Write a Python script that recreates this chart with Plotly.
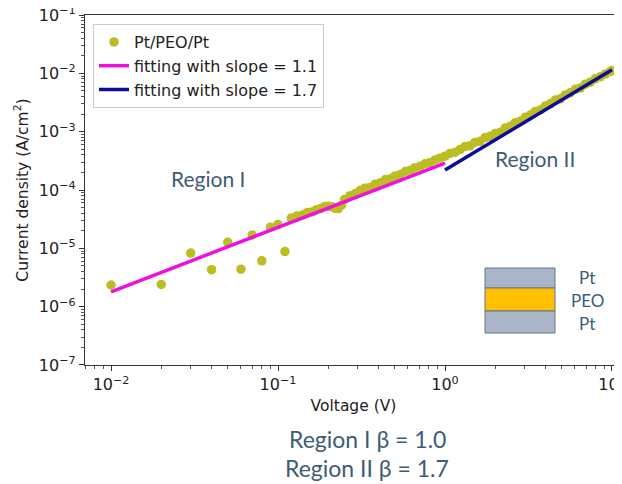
import plotly.graph_objects as go

# ---- data ----
voltage = [0.01, 0.02, 0.03, 0.04, 0.05, 0.06, 0.07, 0.08, 0.09, 0.10, 0.11, 0.12,
           0.13, 0.14, 0.15, 0.16, 0.17, 0.18, 0.19, 0.20, 0.21, 0.22, 0.23, 0.24, 0.25,
           0.27, 0.29, 0.31, 0.33, 0.35, 0.38, 0.41, 0.44, 0.47, 0.50, 0.54, 0.58, 0.62,
           0.66, 0.71, 0.76, 0.81, 0.87, 0.93, 1.0, 1.07, 1.15, 1.23, 1.32, 1.41, 1.51,
           1.62, 1.74, 1.86, 2.0, 2.14, 2.29, 2.45, 2.63, 2.82, 3.02, 3.24, 3.47, 3.72,
           3.98, 4.27, 4.57, 4.90, 5.25, 5.62, 6.03, 6.46, 6.92, 7.41, 7.94, 8.51, 9.12,
           9.77, 10.0]
current = [2.35e-6, 2.4e-6, 8.3e-6, 4.3e-6, 1.27e-5, 4.4e-6, 1.7e-5, 6.1e-6, 2.3e-5, 2.57e-5, 8.8e-6, 3.3e-5,
           3.59e-5, 3.72e-5, 4.11e-5, 4.21e-5, 4.60e-5, 4.80e-5, 5.21e-5, 5.26e-5, 5.18e-5, 4.85e-5, 4.8e-5, 5.5e-5, 6.9e-5,
           8.0e-5, 8.7e-5, 9.8e-5, 1.07e-4, 1.09e-4, 1.25e-4, 1.33e-4, 1.51e-4, 1.55e-4, 1.73e-4, 1.84e-4, 2.08e-4, 2.19e-4,
           2.41e-4, 2.55e-4, 2.81e-4, 2.94e-4, 3.27e-4, 3.51e-4, 3.8e-4, 4.24e-4, 4.44e-4, 4.93e-4, 5.58e-4, 5.73e-4, 6.55e-4,
           6.84e-4, 7.91e-4, 8.32e-4, 9.31e-4, 9.77e-4, 1.153e-3, 1.239e-3, 1.419e-3, 1.51e-3, 1.76e-3, 1.93e-3, 2.22e-3, 2.36e-3,
           2.75e-3, 3.0e-3, 3.48e-3, 3.66e-3, 4.27e-3, 4.63e-3, 5.33e-3, 5.6e-3, 6.52e-3, 7.06e-3, 8.04e-3, 8.73e-3, 9.7e-3,
           1.079e-2, 1.12e-2]

fit1_v = [0.01, 1.0]
fit1_j = [1.8e-6, 2.9e-4]
fit2_v = [1.0, 10.0]
fit2_j = [2.2e-4, 1.15e-2]

x_ticks = [0.01, 0.1, 1, 10]
x_ticktext = ["10<sup>−2</sup>", "10<sup>−1</sup>", "10<sup>0</sup>", "10<sup>1</sup>"]
y_ticks = [1e-7, 1e-6, 1e-5, 1e-4, 1e-3, 1e-2, 1e-1]
y_ticktext = ["10<sup>−7</sup>", "10<sup>−6</sup>", "10<sup>−5</sup>", "10<sup>−4</sup>",
              "10<sup>−3</sup>", "10<sup>−2</sup>", "10<sup>−1</sup>"]

legend_names = ["Pt/PEO/Pt", "fitting with slope = 1.1", "fitting with slope = 1.7"]
stack_labels = ["Pt", "PEO", "Pt"]
region_labels = ["Region I", "Region II"]
beta_lines = ["Region I β = 1.0", "Region II β = 1.7"]

TXT = "#3e5c76"
FONT = "DejaVu Sans"
FONT2 = "Lato"

# the page body has an 8px default margin; lay the figure out in page pixels
OFF = 8
PAGE_W, PAGE_H = 622, 484
PL, PT, PR_, PB = 85, 15, 622, 365   # plot area in page pixels

fig = go.Figure()
fig.add_trace(go.Scatter(x=voltage, y=current, mode="markers", name=legend_names[0],
                         marker=dict(color="#bcbd22", size=9.5, line=dict(width=0))))
fig.add_trace(go.Scatter(x=fit1_v, y=fit1_j, mode="lines", name=legend_names[1],
                         line=dict(color="#ee10dd", width=3.5)))
fig.add_trace(go.Scatter(x=fit2_v, y=fit2_j, mode="lines", name=legend_names[2],
                         line=dict(color="#0c0c9c", width=3.5)))

axis_common = dict(type="log", showgrid=False, zeroline=False, showline=True, automargin=False,
                   linecolor="#333333", linewidth=1.3, ticks="outside", ticklen=5,
                   tickwidth=1.1, tickcolor="#333333", ticklabeloverflow="allow",
                   tickfont=dict(family=FONT, size=16, color="#222222"),
                   minor=dict(ticks="outside", ticklen=2.5, tickcolor="#555555", showgrid=False, dtick="D1"))

fig.update_xaxes(**axis_common, range=[-2.156, 1.06], tickvals=x_ticks, ticktext=x_ticktext, mirror=True,
                 title=dict(text="Voltage (V)", font=dict(family=FONT, size=15.5, color="#222222"), standoff=6))
fig.update_yaxes(**axis_common, range=[-7.0002, -0.9998], tickvals=y_ticks, ticktext=y_ticktext, mirror=False,
                 title=dict(text="Current density (A/cm<sup>2</sup>)", font=dict(family=FONT, size=15.5, color="#222222"), standoff=6))

def px(xp):
    return (xp - PL) / float(PR_ - PL)

def py(yp):
    return (PB - yp) / float(PB - PT)

# inset layered stack
stack_rows = [(268, 288, "#aab5c7"), (288, 311, "#ffc000"), (311, 333, "#aab5c7")]
for (y0, y1, c) in stack_rows:
    fig.add_shape(type="rect", xref="paper", yref="paper", x0=px(485), x1=px(555),
                  y0=py(y1), y1=py(y0), fillcolor=c, line=dict(color="#62768e", width=1))
for lab, yy in zip(stack_labels, [277, 300, 323]):
    fig.add_annotation(xref="paper", yref="paper", x=px(587), y=py(yy), text=lab, showarrow=False,
                       xanchor="center", yanchor="middle",
                       font=dict(family=FONT2, size=17, color=TXT))

for lab, (xx, yy) in zip(region_labels, [(208, 179), (535, 158)]):
    fig.add_annotation(xref="paper", yref="paper", x=px(xx), y=py(yy), text=lab, showarrow=False,
                       xanchor="center", yanchor="middle",
                       font=dict(family=FONT2, size=21, color=TXT))

for lab, yy in zip(beta_lines, [439, 468]):
    fig.add_annotation(xref="paper", yref="paper", x=px(367), y=py(yy), text=lab, showarrow=False,
                       xanchor="center", yanchor="middle",
                       font=dict(family=FONT2, size=23, color=TXT))

fig.update_layout(
    width=PAGE_W - OFF, height=PAGE_H - OFF,
    margin=dict(l=PL - OFF, r=0, t=PT - OFF, b=PAGE_H - PB),
    paper_bgcolor="white", plot_bgcolor="white",
    showlegend=True,
    legend=dict(x=px(93), y=py(24), xanchor="left", yanchor="top",
                bgcolor="rgba(255,255,255,0.9)", bordercolor="#cccccc", borderwidth=1,
                font=dict(family=FONT, size=16, color="#222222")),
)

fig.write_html("out.html")
